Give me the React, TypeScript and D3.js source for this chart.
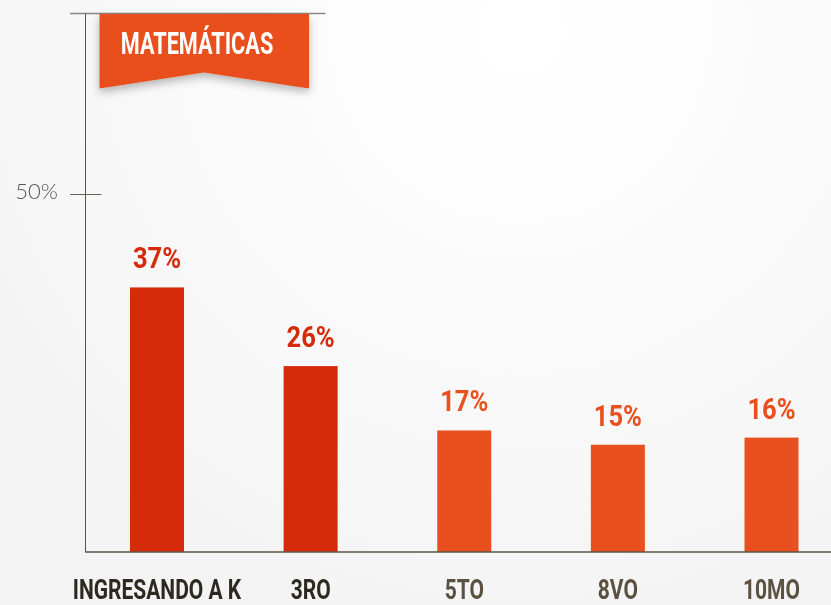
import React from "react";
import * as d3 from "d3";

const categories = ["INGRESANDO A K", "3RO", "5TO", "8VO", "10MO"];
const values = [37, 26, 17, 15, 16];
const valueLabels = ["37%", "26%", "17%", "15%", "16%"];
const highlighted = [true, true, false, false, false];
const yTicks = [50];
const yTickLabels = ["50%"];
const title = "MATEMÁTICAS";

const W = 831;
const H = 605;
const DARK_RED = "#d62a0b";
const ORANGE = "#e8501f";
const COND = "Roboto, 'DejaVu Sans', sans-serif";

export default function App() {
  const y = d3.scaleLinear().domain([0, 50]).range([552, 194.5]);
  const x = d3.scalePoint<string>().domain(categories).range([157, 771.5]);
  const bw = 54;
  const bannerPath = d3.path();
  bannerPath.moveTo(99.5, 14);
  bannerPath.lineTo(309, 14);
  bannerPath.lineTo(309, 88.5);
  bannerPath.lineTo(204, 72.5);
  bannerPath.lineTo(99.5, 88.5);
  bannerPath.closePath();

  return (
    <svg
      width={W}
      height={H}
      viewBox={`0 0 ${W} ${H}`}
      style={{ position: "fixed", left: 0, top: 0, display: "block" }}
    >
      <defs>
        <radialGradient id="bg" cx={520} cy={30} r={650} gradientUnits="userSpaceOnUse">
          <stop offset="0" stopColor="#ffffff" />
          <stop offset="0.3" stopColor="#fcfcfc" />
          <stop offset="1" stopColor="#f3f3f3" />
        </radialGradient>
        <filter id="shadow" x="-20%" y="-20%" width="140%" height="160%">
          <feDropShadow dx="0" dy="4" stdDeviation="4" floodColor="#000" floodOpacity="0.28" />
        </filter>
      </defs>
      <rect x={0} y={0} width={W} height={H} fill="url(#bg)" />

      {/* top line */}
      <line x1={70} x2={325.5} y1={13.5} y2={13.5} stroke="#8c8680" strokeWidth={1.5} />
      {/* y axis */}
      <line x1={85.5} x2={85.5} y1={13.5} y2={552} stroke="#5a5348" strokeWidth={1} />

      {yTicks.map((t, i) => (
        <g key={t}>
          <line x1={70} x2={101.5} y1={y(t)} y2={y(t)} stroke="#6b6358" strokeWidth={1} />
          <text
            x={58}
            y={y(t) + 4}
            textAnchor="end"
            fontFamily="Lato, 'Open Sans', sans-serif"
            fontWeight={300}
            fontSize={22}
            fill="#555"
          >
            {yTickLabels[i]}
          </text>
        </g>
      ))}

      {categories.map((c, i) => {
        const cx = x(c)!;
        const col = highlighted[i] ? DARK_RED : ORANGE;
        return (
          <g key={c}>
            <rect x={cx - bw / 2} y={y(values[i])} width={bw} height={y(0) - y(values[i])} fill={col} />
            <g transform={`translate(${cx},${y(values[i]) - 19}) scale(0.88,1)`}>
              <text textAnchor="middle" fontFamily={COND} fontWeight={700} fontSize={29} fill={col}>
                {valueLabels[i]}
              </text>
            </g>
            <g transform={`translate(${cx},598.5) scale(0.75,1)`}>
              <text
                textAnchor="middle"
                fontFamily={COND}
                fontWeight={700}
                fontSize={28}
                fill={highlighted[i] ? "#2e2920" : "#5b5141"}
              >
                {c}
              </text>
            </g>
          </g>
        );
      })}

      {/* baseline */}
      <line x1={85} x2={W} y1={552} y2={552} stroke="#5e5446" strokeWidth={1.5} />

      {/* banner */}
      <path d={bannerPath.toString()} fill="#e8501f" filter="url(#shadow)" />
      <g transform={`translate(197,54) scale(0.7,1)`}>
        <text textAnchor="middle" fontFamily={COND} fontWeight={700} fontSize={31} fill="#fff">
          {title}
        </text>
      </g>
    </svg>
  );
}
